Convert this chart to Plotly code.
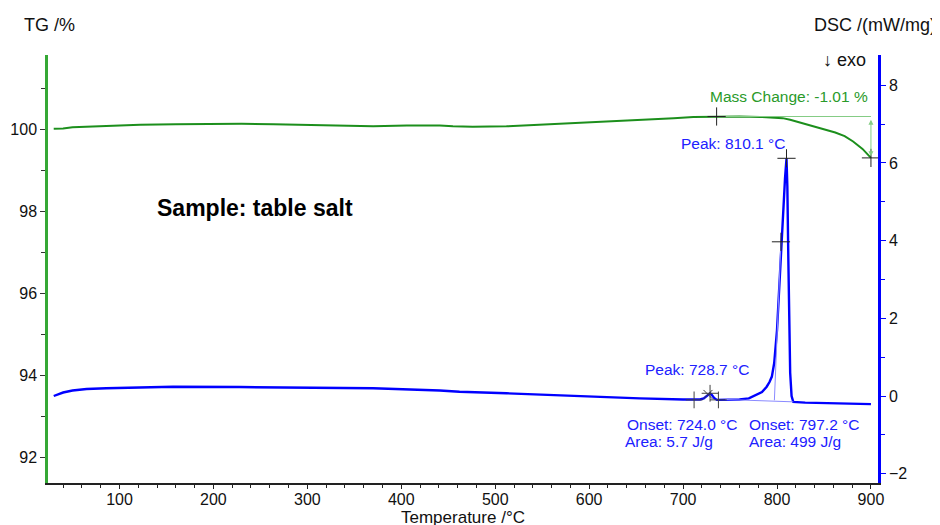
import plotly.graph_objects as go

# ---------------- data ----------------
tg_temp = [30, 40, 50, 70, 95, 122, 160, 193, 230, 264, 290, 317, 345, 370, 406, 441,
           455, 476, 512, 550, 583, 620, 654, 690, 711, 736, 760, 782, 796, 806, 814,
           825, 837, 849, 862, 872, 881, 891, 900]
tg_mass = [100.02, 100.03, 100.06, 100.08, 100.10, 100.12, 100.13, 100.14, 100.14, 100.13,
           100.12, 100.10, 100.10, 100.08, 100.10, 100.10, 100.08, 100.07, 100.08, 100.12,
           100.16, 100.20, 100.24, 100.28, 100.31, 100.32, 100.32, 100.31, 100.30, 100.28,
           100.24, 100.17, 100.10, 100.02, 99.93, 99.84, 99.71, 99.53, 99.31]

dsc_temp = [30, 35, 40, 50, 65, 86, 120, 157, 228, 299, 370, 441, 462, 512, 583, 654, 700,
            711, 718, 722, 725, 727, 728.7, 730.5, 733, 736, 745, 760, 770, 778, 784, 789,
            792, 794.5, 797, 800, 803, 806, 808.5, 810.1, 811, 812, 813, 814, 815.5, 817.3,
            830, 860, 900]
dsc_val = [0.0, 0.05, 0.09, 0.14, 0.18, 0.20, 0.22, 0.24, 0.23, 0.21, 0.20, 0.14, 0.11,
           0.07, 0.0, -0.06, -0.09, -0.10, -0.09, -0.06, -0.01, 0.04, 0.07, 0.03, -0.05,
           -0.10, -0.10, -0.09, -0.06, 0.03, 0.10, 0.24, 0.36, 0.50, 0.85, 1.70, 3.20, 4.70,
           5.60, 6.12, 5.40, 3.60, 1.80, 0.60, 0.0, -0.15, -0.17, -0.19, -0.21]

# evaluation results
mass_start_T, mass_start = 735.7, 100.32
mass_end_T, mass_end = 900.0, 99.31
mass_change = -1.01
peak1_T, peak1_val = 728.7, 0.07
onset1_T, onset1_val = 724.0, 0.02
area1 = 5.7
small_base_T = [711.7, 737.6]
small_base_val = [-0.10, -0.10]
peak2_T, peak2_val = 810.1, 6.12
onset2_T, onset2_val = 797.2, -0.11
infl_T, infl_val = 804.2, 3.97
area2 = 499
base2_T = [745, 817.3]
base2_val = [-0.09, -0.15]

x_ticks = [100, 200, 300, 400, 500, 600, 700, 800, 900]
tg_ticks = [92, 94, 96, 98, 100]
dsc_ticks = [-2, 0, 2, 4, 6, 8]

# ---------------- style ----------------
FONT = "Liberation Sans, Arial, sans-serif"
GREEN = "#1c8f1c"
GREEN_AX = "#35a835"
GREEN_LIGHT = "#85cc85"
BLUE = "#0000ff"
BLUE_TXT = "#2020ff"
BLUE_LIGHT = "#8a8aff"
MARK = "#404040"

fig = go.Figure()

# TG curve
fig.add_trace(go.Scatter(x=tg_temp, y=tg_mass, mode="lines",
                         line=dict(color=GREEN, width=2), yaxis="y", hoverinfo="skip"))
# mass change reference line
fig.add_trace(go.Scatter(x=[mass_start_T, mass_end_T], y=[mass_start, mass_start], mode="lines",
                         line=dict(color=GREEN_LIGHT, width=1.2), yaxis="y", hoverinfo="skip"))
fig.add_trace(go.Scatter(x=[mass_start_T, mass_end_T], y=[mass_start, mass_end], mode="markers",
                         marker=dict(symbol="cross-thin", size=13, line=dict(color="#222", width=1)),
                         yaxis="y", hoverinfo="skip"))

# DSC curve
fig.add_trace(go.Scatter(x=dsc_temp, y=dsc_val, mode="lines",
                         line=dict(color=BLUE, width=2.4), yaxis="y2", hoverinfo="skip"))
# tangent and baseline
fig.add_trace(go.Scatter(x=[onset2_T, infl_T], y=[onset2_val, infl_val], mode="lines",
                         line=dict(color=BLUE_LIGHT, width=1), yaxis="y2", hoverinfo="skip"))
fig.add_trace(go.Scatter(x=base2_T, y=base2_val, mode="lines",
                         line=dict(color=BLUE_LIGHT, width=1), yaxis="y2", hoverinfo="skip"))
# markers
fig.add_trace(go.Scatter(x=[peak2_T, infl_T], y=[peak2_val, infl_val], mode="markers",
                         marker=dict(symbol="cross-thin", size=13, line=dict(color="#222", width=1)),
                         yaxis="y2", hoverinfo="skip"))
fig.add_trace(go.Scatter(x=small_base_T + [peak1_T], y=small_base_val + [peak1_val], mode="markers",
                         marker=dict(symbol="cross-thin", size=12, line=dict(color=MARK, width=1)),
                         yaxis="y2", hoverinfo="skip"))
fig.add_trace(go.Scatter(x=[onset1_T + 2.5], y=[onset1_val + 0.02], mode="markers",
                         marker=dict(symbol="x-thin", size=9, line=dict(color=MARK, width=1)),
                         yaxis="y2", hoverinfo="skip"))

LBL = 15.5
annotations = [
    dict(text="TG /%", xref="paper", yref="paper", x=-0.0313, y=1.07, xanchor="left",
         yanchor="middle", showarrow=False, font=dict(size=18, color="#111")),
    dict(text="DSC /(mW/mg)", xref="paper", yref="paper", x=1.0723, y=1.07, xanchor="right",
         yanchor="middle", showarrow=False, font=dict(size=18, color="#111")),
    dict(text="↓ exo", xref="paper", yref="paper", x=0.988, y=0.988, xanchor="right",
         yanchor="middle", showarrow=False, font=dict(size=18, color="#111")),
    dict(text="Temperature /°C", xref="paper", yref="paper", x=0.5, y=-0.0815,
         xanchor="center", yanchor="middle", showarrow=False, font=dict(size=17, color="#111")),
    dict(text="<b>Sample: table salt</b>", xref="paper", yref="paper", x=0.129, y=0.6425,
         xanchor="left", yanchor="middle", showarrow=False, font=dict(size=23, color="#000")),
    dict(text=f"Mass Change: {mass_change:.2f} %", xref="x", yref="y", x=mass_end_T - 1,
         y=100.80, xanchor="right", yanchor="middle", showarrow=False,
         font=dict(size=LBL, color="#2a9a2a")),
    dict(text=f"Peak: {peak2_T:.1f} °C", xref="x", yref="y2", x=peak2_T, y=6.51,
         xanchor="right", yanchor="middle", showarrow=False, font=dict(size=LBL, color=BLUE_TXT)),
    dict(text=f"Peak: {peak1_T:.1f} °C", xref="x", yref="y2", x=772, y=0.69,
         xanchor="right", yanchor="middle", showarrow=False, font=dict(size=LBL, color=BLUE_TXT)),
    dict(text=f"Onset: {onset1_T:.1f} °C", xref="x", yref="y2", x=638, y=-0.73,
         xanchor="left", yanchor="middle", showarrow=False, font=dict(size=LBL, color=BLUE_TXT)),
    dict(text=f"Area: {area1} J/g", xref="x", yref="y2", x=636, y=-1.17,
         xanchor="left", yanchor="middle", showarrow=False, font=dict(size=LBL, color=BLUE_TXT)),
    dict(text=f"Onset: {onset2_T:.1f} °C", xref="x", yref="y2", x=768, y=-0.73,
         xanchor="left", yanchor="middle", showarrow=False, font=dict(size=LBL, color=BLUE_TXT)),
    dict(text=f"Area: {area2} J/g", xref="x", yref="y2", x=768, y=-1.17,
         xanchor="left", yanchor="middle", showarrow=False, font=dict(size=LBL, color=BLUE_TXT)),
    # mass change double arrow
    dict(text="", xref="x", yref="y", axref="x", ayref="y", x=mass_end_T, y=mass_end + 0.04,
         ax=mass_end_T, ay=mass_start - 0.04, showarrow=True, arrowhead=2, startarrowhead=2,
         arrowside="end+start", arrowsize=1, startarrowsize=1, arrowwidth=1,
         arrowcolor=GREEN_LIGHT),
]

# page body has an 8px margin: size the figure so the plot area lands where intended
fig.update_layout(
    width=932, height=517,
    margin=dict(l=40, r=62, t=47, b=42, autoexpand=False),
    paper_bgcolor="white", plot_bgcolor="white",
    showlegend=False,
    font=dict(family=FONT, size=16, color="#111"),
    annotations=annotations,
    xaxis=dict(range=[23.9, 907.5], tickvals=x_ticks, showgrid=False, zeroline=False,
               automargin=False, ticklabelstandoff=-3,
               showline=True, linecolor="#222", linewidth=1.5, ticks="outside", ticklen=4,
               tickcolor="#222", tickwidth=1,
               minor=dict(dtick=20, ticks="outside", ticklen=3, tickcolor="#222", showgrid=False),
               tickfont=dict(size=16, color="#111")),
    yaxis=dict(range=[91.38, 101.82], tickvals=tg_ticks, showgrid=False, zeroline=False,
               automargin=False,
               showline=True, linecolor=GREEN_AX, linewidth=2.5, ticks="outside", ticklen=5,
               tickcolor="#333", tickwidth=1,
               minor=dict(dtick=1, ticks="outside", ticklen=4, tickcolor="#333", showgrid=False),
               tickfont=dict(size=16, color="#111")),
    yaxis2=dict(range=[-2.24, 8.78], tickvals=dsc_ticks, overlaying="y", side="right",
                automargin=False,
                showgrid=False, zeroline=False, showline=True, linecolor=BLUE, linewidth=2.5,
                ticks="outside", ticklen=5, tickcolor=BLUE, tickwidth=1,
                minor=dict(dtick=1, ticks="outside", ticklen=4, tickcolor=BLUE, showgrid=False),
                tickfont=dict(size=16, color="#111")),
)

fig.write_html("out.html")
